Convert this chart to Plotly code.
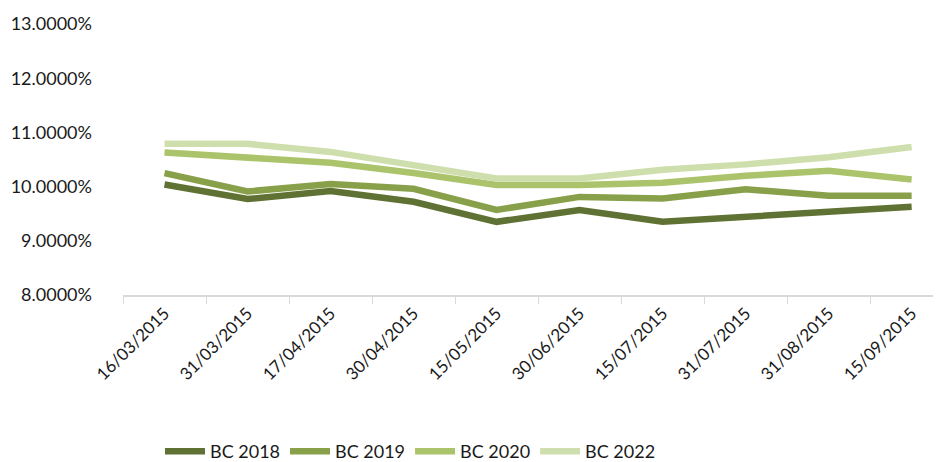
import plotly.graph_objects as go

dates = ["16/03/2015", "31/03/2015", "17/04/2015", "30/04/2015", "15/05/2015",
         "30/06/2015", "15/07/2015", "31/07/2015", "31/08/2015", "15/09/2015"]

bc2018 = [10.04, 9.77, 9.92, 9.72, 9.35, 9.57, 9.35, 9.44, 9.56, 9.63]
bc2019 = [10.25, 9.91, 10.05, 9.96, 9.57, 9.81, 9.78, 9.95, 9.83, 9.83]
bc2020 = [10.63, 10.53, 10.44, 10.25, 10.03, 10.03, 10.07, 10.20, 10.29, 10.13]
bc2022 = [10.79, 10.79, 10.64, 10.40, 10.15, 10.15, 10.31, 10.41, 10.54, 10.73]

series = [
    ("BC 2018", bc2018, "#5f7234"),
    ("BC 2019", bc2019, "#89a04a"),
    ("BC 2020", bc2020, "#abc46b"),
    ("BC 2022", bc2022, "#cedfad"),
]

y_ticks = [8, 9, 10, 11, 12, 13]
y_ticklabels = [f"{v:.4f}%" for v in y_ticks]

fig = go.Figure()
for name, vals, color in series:
    fig.add_trace(go.Scatter(
        x=dates, y=vals, name=name, mode="lines",
        line=dict(color=color, width=6.5),
    ))

font_family = "Lato, 'DejaVu Sans', sans-serif"

fig.update_layout(
    width=941, height=462,
    margin=dict(l=115, r=0, t=16, b=175, autoexpand=False),
    plot_bgcolor="white", paper_bgcolor="white",
    font=dict(family=font_family, size=17, color="#1a1a1a"),
    showlegend=True,
    legend=dict(orientation="h", xref="container", yref="container",
                x=152 / 941, xanchor="left", y=0, yanchor="bottom",
                font=dict(size=18), itemwidth=40, tracegroupgap=0),
    xaxis=dict(
        type="category", range=[-0.5, 9.45], automargin=False,
        showgrid=False, showline=True, linecolor="#d9d9d9", linewidth=1.5,
        ticks="outside", tickson="boundaries", ticklen=7, tickcolor="#d9d9d9",
        tickangle=-45, tickfont=dict(size=17),
    ),
    yaxis=dict(
        range=[8, 13], tickvals=y_ticks, ticktext=y_ticklabels, automargin=False,
        showgrid=False, showline=False, zeroline=False, ticks="",
        tickfont=dict(size=18), ticklabelstandoff=30,
    ),
)

fig.write_html("out.html")
